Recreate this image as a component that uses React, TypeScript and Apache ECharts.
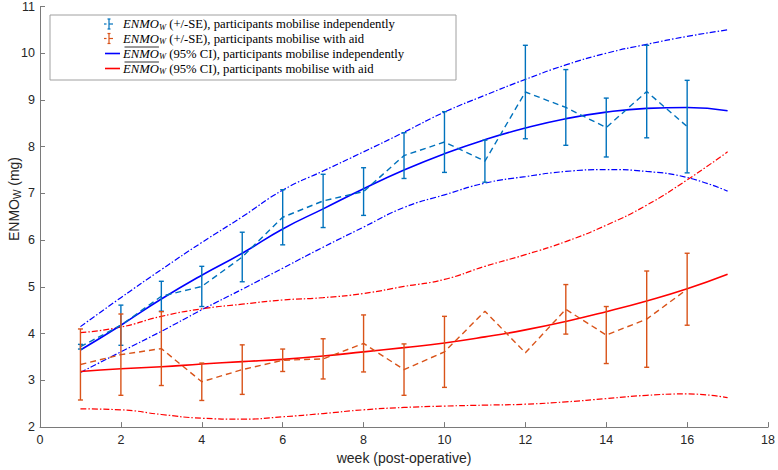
import React, { useEffect, useRef } from "react";
import * as echarts from "echarts";

const weeks = [1, 2, 3, 4, 5, 6, 7, 8, 9, 10, 11, 12, 13, 14, 15, 16];
const indepMean = [3.72, 4.18, 4.8, 5.01, 5.64, 6.49, 6.84, 7.04, 7.81, 8.1, 7.69, 9.17, 8.84, 8.41, 9.18, 8.43];
const indepSE = [0.05, 0.43, 0.32, 0.43, 0.53, 0.59, 0.57, 0.51, 0.49, 0.65, 0.45, 1.0, 0.81, 0.63, 0.99, 0.99];
const aidMean = [3.34, 3.55, 3.68, 2.97, 3.23, 3.43, 3.46, 3.79, 3.23, 3.61, 4.48, 3.59, 4.52, 3.97, 4.31, 4.95];
const aidSE = [0.76, 0.87, 0.79, 0.4, 0.53, 0.24, 0.43, 0.61, 0.55, 0.76, null, null, 0.53, 0.61, 1.03, 0.77];

const fitWeeks = [1, 2, 3, 4, 5, 6, 7, 8, 9, 10, 11, 12, 13, 14, 15, 16, 17];
const indepFit = [3.65, 4.18, 4.74, 5.25, 5.72, 6.24, 6.67, 7.1, 7.5, 7.85, 8.15, 8.4, 8.6, 8.74, 8.82, 8.84, 8.77];
const indepCIHigh = [4.15, 4.77, 5.37, 5.95, 6.5, 7.07, 7.48, 7.89, 8.31, 8.74, 9.1, 9.44, 9.75, 10.0, 10.19, 10.36, 10.5];
const indepCILow = [3.17, 3.61, 4.05, 4.51, 4.95, 5.4, 5.85, 6.28, 6.7, 6.97, 7.22, 7.36, 7.47, 7.51, 7.47, 7.34, 7.05];
const aidFit = [3.19, 3.25, 3.29, 3.35, 3.4, 3.45, 3.52, 3.61, 3.7, 3.8, 3.93, 4.08, 4.26, 4.47, 4.7, 4.96, 5.27];
const aidCIHigh = [4.02, 4.14, 4.37, 4.53, 4.63, 4.72, 4.77, 4.86, 5.01, 5.16, 5.44, 5.69, 5.97, 6.32, 6.75, 7.29, 7.89];
const aidCILow = [2.39, 2.37, 2.27, 2.19, 2.17, 2.22, 2.29, 2.37, 2.42, 2.45, 2.47, 2.49, 2.54, 2.61, 2.68, 2.71, 2.63];

const legendRows = [
  { kind: "err", color: "#0072BD", bar: false, rest: " (+/-SE), participants mobilise independently" },
  { kind: "err", color: "#D95319", bar: false, rest: " (+/-SE), participants mobilise with aid" },
  { kind: "line", color: "#0000FF", bar: true, rest: " (95% CI), participants mobilise independently" },
  { kind: "line", color: "#FF0000", bar: true, rest: " (95% CI), participants mobilise with aid" },
];

const BLUE_E = "#0072BD";
const RED_E = "#D95319";
const BLUE_F = "#0000FF";
const RED_F = "#FF0000";
const AXIS = "#7a7a7a";
const SANS = "'Liberation Sans', Arial, sans-serif";
const SERIF = "'Liberation Serif', 'Times New Roman', serif";
const LFS = 12.7;

function errData(mean: number[], se: (number | null)[]) {
  const out: number[][] = [];
  weeks.forEach((w, i) => {
    const s = se[i];
    if (s !== null && s !== undefined) out.push([w, mean[i] - s, mean[i] + s]);
  });
  return out;
}

function errSeries(name: string, data: number[][], color: string) {
  return {
    name,
    type: "custom",
    data,
    encode: { x: 0, y: [1, 2] },
    z: 3,
    renderItem: (params: any, api: any) => {
      const x = api.value(0);
      const p1 = api.coord([x, api.value(1)]);
      const p2 = api.coord([x, api.value(2)]);
      const w = 2.5;
      const style = { stroke: color, lineWidth: 1.4, fill: "none" };
      return {
        type: "group",
        children: [
          { type: "line", shape: { x1: p1[0], y1: p1[1], x2: p2[0], y2: p2[1] }, style },
          { type: "line", shape: { x1: p1[0] - w, y1: p1[1], x2: p1[0] + w, y2: p1[1] }, style },
          { type: "line", shape: { x1: p2[0] - w, y1: p2[1], x2: p2[0] + w, y2: p2[1] }, style },
        ],
      };
    },
  };
}

function lineSeries(xs: number[], ys: number[], color: string, type: any, width: number, smooth: boolean) {
  return {
    type: "line",
    data: xs.map((x, i) => [x, ys[i]]),
    showSymbol: false,
    symbol: "none",
    smooth,
    lineStyle: { color, type, width },
    z: 2,
  };
}

function measure(text: string, font: string) {
  const c = document.createElement("canvas").getContext("2d");
  if (!c) return text.length * 7;
  c.font = font;
  return c.measureText(text).width;
}

export default function App() {
  const ref = useRef<HTMLDivElement>(null);
  useEffect(() => {
    if (!ref.current) return;
    const chart = echarts.init(ref.current, undefined, { renderer: "svg" });
    const dashDot = [6, 2, 1.5, 2];

    const legendX = 50, legendY = 15, legendW = 406, legendH = 65;
    const rowY = [24, 38.5, 53.5, 68.5];
    const textX = 123;
    const enmoW = measure("ENMO", `italic ${LFS}px 'Liberation Serif'`);
    const graphics: any[] = [
      {
        type: "rect",
        shape: { x: legendX, y: legendY, width: legendW, height: legendH },
        style: { fill: "#fff", stroke: "#a0a0a0", lineWidth: 1 },
        z: 10,
      },
      {
        type: "text",
        x: 14,
        y: 199,
        rotation: Math.PI / 2,
        z: 11,
        style: {
          text: "{m|ENMO}{sub|W}{m| (mg)}",
          align: "center",
          verticalAlign: "middle",
          rich: {
            m: { fontFamily: SANS, fontSize: 14, lineHeight: 16, fill: "#262626" },
            sub: { fontFamily: SANS, fontSize: 10, verticalAlign: "bottom", padding: [5, 0, 0, 0], fill: "#262626" },
          },
        },
      },
    ];
    legendRows.forEach((r, i) => {
      const y = rowY[i];
      if (r.kind === "err") {
        const st = { stroke: r.color, lineWidth: 1.2 };
        graphics.push(
          { type: "line", shape: { x1: 104, y1: y, x2: 106.5, y2: y }, style: st, z: 11 },
          { type: "line", shape: { x1: 109, y1: y - 5, x2: 109, y2: y + 5 }, style: st, z: 11 },
          { type: "line", shape: { x1: 107.5, y1: y - 5, x2: 110.5, y2: y - 5 }, style: st, z: 11 },
          { type: "line", shape: { x1: 107.5, y1: y + 5, x2: 110.5, y2: y + 5 }, style: st, z: 11 },
          { type: "line", shape: { x1: 109, y1: y, x2: 113, y2: y }, style: st, z: 11 }
        );
      } else {
        graphics.push({
          type: "line",
          shape: { x1: 105, y1: y, x2: 120, y2: y },
          style: { stroke: r.color, lineWidth: 1.6 },
          z: 11,
        });
      }
      graphics.push({
        type: "text",
        x: textX,
        y,
        z: 11,
        style: {
          text: `{it|ENMO}{sub|W}{n|${r.rest}}`,
          verticalAlign: "middle",
          align: "left",
          rich: {
            it: { fontFamily: SERIF, fontStyle: "italic", fontSize: LFS, lineHeight: 14, fill: "#000" },
            sub: { fontFamily: SERIF, fontStyle: "italic", fontSize: 8.5, verticalAlign: "bottom", padding: [4, 0, 0, 0], fill: "#000" },
            n: { fontFamily: SERIF, fontSize: LFS, lineHeight: 14, fill: "#000" },
          },
        },
      });
      if (r.bar) {
        graphics.push({
          type: "line",
          shape: { x1: textX + 1.5, y1: y - 6.5, x2: textX + enmoW, y2: y - 6.5 },
          style: { stroke: "#000", lineWidth: 0.8 },
          z: 11,
        });
      }
    });

    const option: any = {
      animation: false,
      backgroundColor: "#fff",
      grid: { left: 40, right: 8, top: 6, bottom: 37, containLabel: false },
      xAxis: {
        type: "value",
        min: 0,
        max: 18,
        interval: 2,
        name: "week (post-operative)",
        nameLocation: "middle",
        nameGap: 19,
        nameTextStyle: { fontFamily: SANS, fontSize: 14, color: "#262626" },
        axisLine: { show: true, lineStyle: { color: AXIS, width: 1 } },
        axisTick: { show: true, inside: true, length: 5, lineStyle: { color: AXIS } },
        axisLabel: { fontFamily: SANS, fontSize: 12.5, color: "#262626", margin: 6 },
        splitLine: { show: false },
      },
      yAxis: {
        type: "value",
        min: 2,
        max: 11,
        interval: 1,
        axisLine: { show: true, lineStyle: { color: AXIS, width: 1 } },
        axisTick: { show: true, inside: true, length: 5, lineStyle: { color: AXIS } },
        axisLabel: { fontFamily: SANS, fontSize: 12.5, color: "#262626", margin: 5 },
        splitLine: { show: false },
      },
      series: [
        lineSeries(fitWeeks, indepCIHigh, BLUE_F, dashDot, 1.2, true),
        lineSeries(fitWeeks, indepCILow, BLUE_F, dashDot, 1.2, true),
        lineSeries(fitWeeks, aidCIHigh, RED_F, dashDot, 1.2, true),
        lineSeries(fitWeeks, aidCILow, RED_F, dashDot, 1.2, true),
        lineSeries(fitWeeks, indepFit, BLUE_F, "solid", 1.6, true),
        lineSeries(fitWeeks, aidFit, RED_F, "solid", 1.6, true),
        lineSeries(weeks, indepMean, BLUE_E, [6, 4], 1.4, false),
        lineSeries(weeks, aidMean, RED_E, [6, 4], 1.4, false),
        errSeries("indepErr", errData(indepMean, indepSE), BLUE_E),
        errSeries("aidErr", errData(aidMean, aidSE), RED_E),
      ],
      graphic: graphics,
    };
    chart.setOption(option);
    return () => chart.dispose();
  }, []);
  return <div ref={ref} style={{ position: "fixed", left: 0, top: 0, width: 778, height: 470 }} />;
}
